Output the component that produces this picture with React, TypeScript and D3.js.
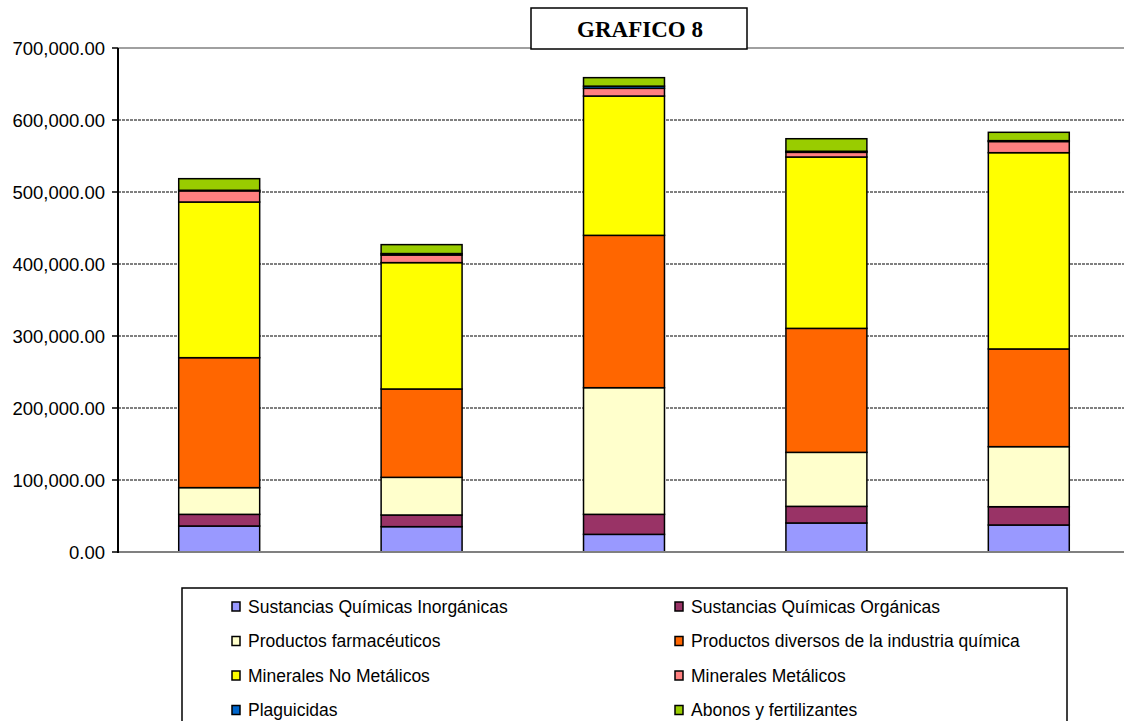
import React from "react";
import * as d3 from "d3";

const categories = ["1", "2", "3", "4", "5"];
const seriesNames = [
  "Sustancias Químicas Inorgánicas",
  "Sustancias Químicas Orgánicas",
  "Productos farmacéuticos",
  "Productos diversos de la industria química",
  "Minerales No Metálicos",
  "Minerales Metálicos",
  "Plaguicidas",
  "Abonos y fertilizantes",
];
const seriesColors = ["#9999FF", "#993366", "#FFFFCC", "#FF6600", "#FFFF00", "#FF8080", "#0066CC", "#99CC00"];
const inorganicas = [36100, 35200, 24500, 40300, 37500];
const organicas = [16200, 16200, 27800, 23100, 25400];
const farmaceuticos = [37100, 52300, 175900, 75000, 83400];
const diversos = [180500, 122700, 211600, 172200, 135700];
const noMetalicos = [216200, 175500, 193500, 238000, 272600];
const metalicos = [15500, 10600, 10700, 6500, 15500];
const plaguicidas = [800, 2000, 3000, 1500, 1200];
const abonos = [16100, 12400, 11800, 17400, 11600];
const yTicks = [0, 100000, 200000, 300000, 400000, 500000, 600000, 700000];
const title = "GRAFICO 8";

const allSeries = [inorganicas, organicas, farmaceuticos, diversos, noMetalicos, metalicos, plaguicidas, abonos];

export default function App() {
  const W = 1124, H = 721;
  const left = 118, top = 48, bottom = 552;
  const x = d3.scaleBand().domain(categories).range([left, 1130]).paddingInner(0.6).paddingOuter(0.3);
  const y = d3.scaleLinear().domain([0, 700000]).range([bottom, top]);
  const rows = categories.map((c, i) => {
    const r: any = { cat: c };
    seriesNames.forEach((s, k) => (r[s] = allSeries[k][i]));
    return r;
  });
  const stacked = d3.stack().keys(seriesNames)(rows);
  const fmt = (v: number) => d3.format(",.2f")(v);
  const sans = "'Liberation Sans', Arial, sans-serif";

  return (
    <svg width={W} height={H} style={{ position: "absolute", left: 0, top: 0, background: "#fff" }}>
      {/* gridlines */}
      {yTicks.filter((t) => t > 0 && t < 700000).map((t) => (
        <line key={t} x1={left} x2={W} y1={y(t)} y2={y(t)} stroke="#000" strokeWidth={1} strokeDasharray="3,1" />
      ))}
      <line x1={left} x2={W} y1={y(700000)} y2={y(700000)} stroke="#808080" strokeWidth={1.5} />
      {/* bars */}
      {stacked.map((layer, k) => (
        <g key={k}>
          {layer.map((d, i) => (
            <rect
              key={i}
              x={x(categories[i])!}
              width={x.bandwidth()}
              y={y(d[1])}
              height={y(d[0]) - y(d[1])}
              fill={seriesColors[k]}
              stroke="#000"
              strokeWidth={1.5}
            />
          ))}
        </g>
      ))}
      {/* axes */}
      <line x1={left} x2={W} y1={bottom} y2={bottom} stroke="#808080" strokeWidth={2} />
      <line x1={left} x2={left} y1={top} y2={bottom + 1} stroke="#000" strokeWidth={2} />
      {yTicks.map((t) => (
        <g key={t}>
          <line x1={left - 6} x2={left} y1={y(t)} y2={y(t)} stroke="#000" strokeWidth={1.5} />
          <text x={105} y={y(t)} dy="0.36em" textAnchor="end" fontFamily={sans} fontSize={18.5} fill="#000">
            {fmt(t)}
          </text>
        </g>
      ))}
      {/* title */}
      <rect x={531} y={8} width={216} height={41} fill="#fff" stroke="#000" strokeWidth={1.5} />
      <text x={640} y={29} dy="0.35em" textAnchor="middle" fontFamily="'Liberation Serif', 'Times New Roman', serif" fontWeight="bold" fontSize={23}>
        {title}
      </text>
      {/* legend */}
      <rect x={182} y={588} width={885} height={140} fill="#fff" stroke="#000" strokeWidth={1.5} />
      {seriesNames.map((s, k) => {
        const col = k % 2, row = Math.floor(k / 2);
        const sx = col === 0 ? 232 : 675;
        const cy = 606.5 + row * 34.5;
        return (
          <g key={s}>
            <rect x={sx} y={cy - 4.5} width={8} height={9} fill={seriesColors[k]} stroke="#000" strokeWidth={1.5} />
            <text x={sx + 16} y={cy} dy="0.36em" fontFamily={sans} fontSize={17.5} fill="#000">
              {s}
            </text>
          </g>
        );
      })}
    </svg>
  );
}
